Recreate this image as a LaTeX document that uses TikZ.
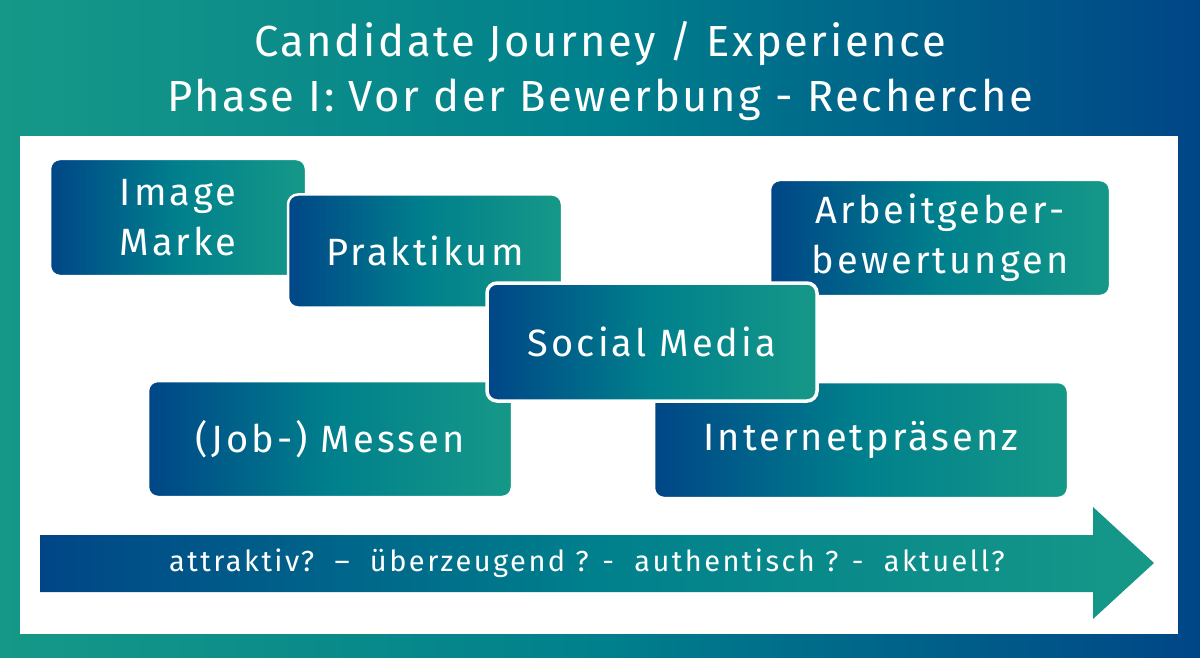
\documentclass[tikz,border=0pt]{standalone}
\usepackage{fontspec}
\setmainfont{Fira Sans}
\newfontfamily\titlefont[LetterSpace=6]{Fira Sans}
\newfontfamily\boxfont[LetterSpace=8]{Fira Sans}
\newfontfamily\arrowfont[LetterSpace=8.5]{Fira Sans}
\definecolor{cblue}{RGB}{0,70,135}
\definecolor{cmid}{RGB}{0,128,140}
\definecolor{cteal}{RGB}{22,152,136}
\tikzset{
  bgshade/.style={left color=cteal, right color=cblue, middle color=cmid},
  cbox/.style={draw=white, line width=2.5pt, rounded corners=10pt,
    left color=cblue, right color=cteal, middle color=cmid,
    text=white, font=\boxfont\fontsize{38}{50}\selectfont, align=center,
    inner sep=0pt},
  titletext/.style={text=white, font=\titlefont\fontsize{43.5}{55}\selectfont, anchor=base, inner sep=0pt},
}
\begin{document}
\begin{tikzpicture}[x=1pt,y=-1pt]
\useasboundingbox (0,0) rectangle (1200,658);
\shade[bgshade] (0,0) rectangle (1200,658);
\fill[white] (20,136) rectangle (1178,634);
\node[titletext] (t1) at (600,57) {Candidate Journey / Experience};
\node[titletext] (t2) at (600,112) {Phase I: Vor der Bewerbung - Recherche};
% arrow
\shade[left color=cblue, right color=cteal, middle color=cmid]
  (40,535) -- (1093,535) -- (1093,507) -- (1154,563) -- (1093,619) -- (1093,592) -- (40,592) -- cycle;
\node[text=white, font=\arrowfont\fontsize{29}{30}\selectfont, inner sep=0pt] (arr) at (587,563)
  {attraktiv?\ \ –\ \ überzeugend ? -\ \ authentisch ? -\ \ aktuell?};
% boxes
\node[cbox, minimum width=256pt, minimum height=117pt] (img) at (178,217.5) {Image\\Marke};
\node[cbox, minimum width=274pt, minimum height=113pt] (prak) at (425,251) {Praktikum};
\node[cbox, minimum width=340pt, minimum height=116pt] (arb) at (940,238) {Arbeitgeber-\\bewertungen};
\node[cbox, minimum width=364pt, minimum height=116pt] (mess) at (330,439) {(Job-) Messen};
\node[cbox, minimum width=414pt, minimum height=116pt] (inet) at (861,440) {Internetpräsenz};
\node[cbox, line width=3.5pt, minimum width=330pt, minimum height=118pt] (soc) at (652,342) {Social Media};
\end{tikzpicture}
\end{document}
